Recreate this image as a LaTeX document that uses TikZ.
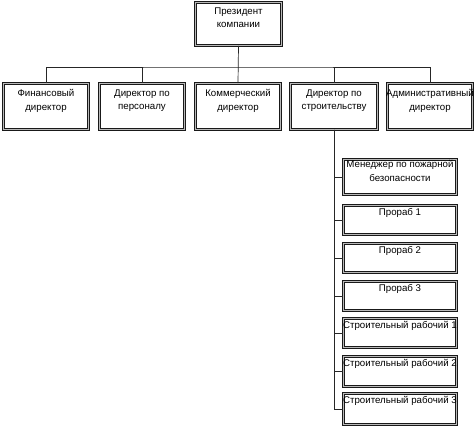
\documentclass[tikz,border=0pt]{standalone}
\usepackage{fontspec}
\setmainfont{Liberation Sans}
\newcommand{\bxtext}[4]{\parbox[c][#2pt][t]{#1pt}{\centering\fontsize{9.7}{13.5}\selectfont\vspace*{#3pt}#4\par}}
\newcommand{\fullline}[1]{\makebox[\linewidth][c]{#1}}
\begin{document}
\begin{tikzpicture}[x=1pt,y=1pt,
  orgbox/.style={draw=black!90, double=gray!55, double distance=1.3pt, line width=0.55pt, inner sep=0pt, fill=white},
  link/.style={draw=black!85, line width=0.7pt}]
\useasboundingbox (0,0) rectangle (474,-427);
\fill[white] (0,0) rectangle (474,-427);
% top
\node[orgbox] (pres) at (238.5,-24) {\bxtext{86}{43}{5}{Президент\\компании}};
% row
\node[orgbox] (f) at (46,-106.5) {\bxtext{85}{46}{6}{Финансовый\\директор}};
\node[orgbox] (p) at (142,-106.5) {\bxtext{85}{46}{6}{Директор по\\персоналу}};
\node[orgbox] (k) at (238,-106.5) {\bxtext{85}{46}{6}{Коммерческий\\директор}};
\node[orgbox] (s) at (334,-106.5) {\bxtext{87}{46}{6}{Директор по\\строительству}};
\node[orgbox] (a) at (430,-106.5) {\bxtext{85}{46}{6}{\fullline{Административный}\\директор}};
% sub boxes
\node[orgbox] (m) at (400,-177) {\bxtext{113}{35}{1}{\fullline{Менеджер по пожарной}\\безопасности}};
\node[orgbox] (p1) at (400,-220) {\bxtext{113}{29}{3}{Прораб 1}};
\node[orgbox] (p2) at (400,-258) {\bxtext{113}{29}{3}{Прораб 2}};
\node[orgbox] (p3) at (400,-296) {\bxtext{113}{29}{3}{Прораб 3}};
\node[orgbox] (w1) at (400,-333) {\bxtext{113}{29}{3}{\fullline{Строительный рабочий 1}}};
\node[orgbox] (w2) at (400,-371.5) {\bxtext{113}{30}{3}{\fullline{Строительный рабочий 2}}};
\node[orgbox] (w3) at (400,-409) {\bxtext{113}{31}{3}{\fullline{Строительный рабочий 3}}};
% connectors
\coordinate (bus) at (238,-67);
\draw[link] (pres.south) -- (k.north);
\draw[link] (f.north) |- (bus) -| (a.north);
\draw[link] (p.north) -- (p.north |- bus);
\draw[link] (s.north) -- (s.north |- bus);
\foreach \b in {m,p1,p2,p3,w1,w2,w3}{
  \draw[link] (s.south) |- (\b.west);
}
\end{tikzpicture}
\end{document}
